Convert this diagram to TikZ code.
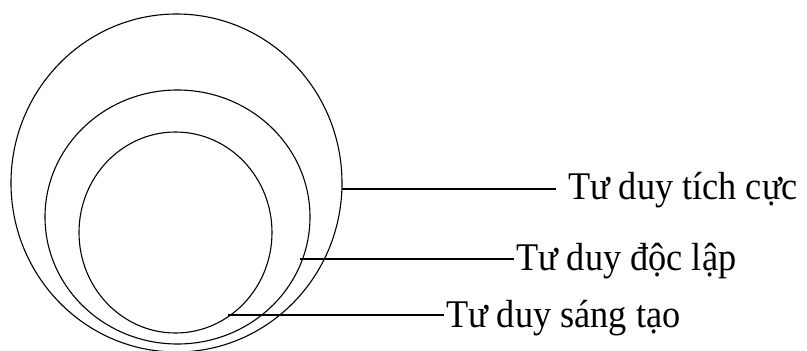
\documentclass[tikz,border=0pt]{standalone}
\usepackage{fontspec}
\setmainfont{Liberation Serif}
\usetikzlibrary{shapes.geometric}
\newcommand{\tallbox}[1]{\scalebox{1}[1.08]{#1}}
\begin{document}
\begin{tikzpicture}[x=1pt,y=-1pt,
  ring/.style={draw,ellipse,line width=1.1pt,inner sep=0pt,outer sep=0pt},
  lbl/.style={anchor=base west,inner sep=0pt,outer sep=0pt,font=\fontsize{36.3}{40}\selectfont},
  conn/.style={line width=1.1pt}]
\useasboundingbox (0,0) rectangle (807,351);
\node[ring,minimum width=331pt,minimum height=338pt] (outer) at (176.5,183) {};
\node[ring,minimum width=265pt,minimum height=254pt] (middle) at (177.5,217) {};
\node[ring,minimum width=193pt,minimum height=201pt] (inner) at (175.5,232.5) {};
\coordinate (c1) at (342,189);
\coordinate (c2) at (300,259);
\coordinate (c3) at (228,315);
\node[lbl] (t1) at (568,199.5) {\tallbox{Tư duy tích cực}};
\node[lbl] (t2) at (516,270) {\tallbox{Tư duy độc lập}};
\node[lbl] (t3) at (446,327) {\tallbox{Tư duy sáng tạo}};
\draw[conn] (c1) -- ([xshift=-12pt]t1.west |- c1);
\draw[conn] (c2) -- ([xshift=-2pt]t2.west |- c2);
\draw[conn] (c3) -- ([xshift=-2pt]t3.west |- c3);
\end{tikzpicture}
\end{document}
